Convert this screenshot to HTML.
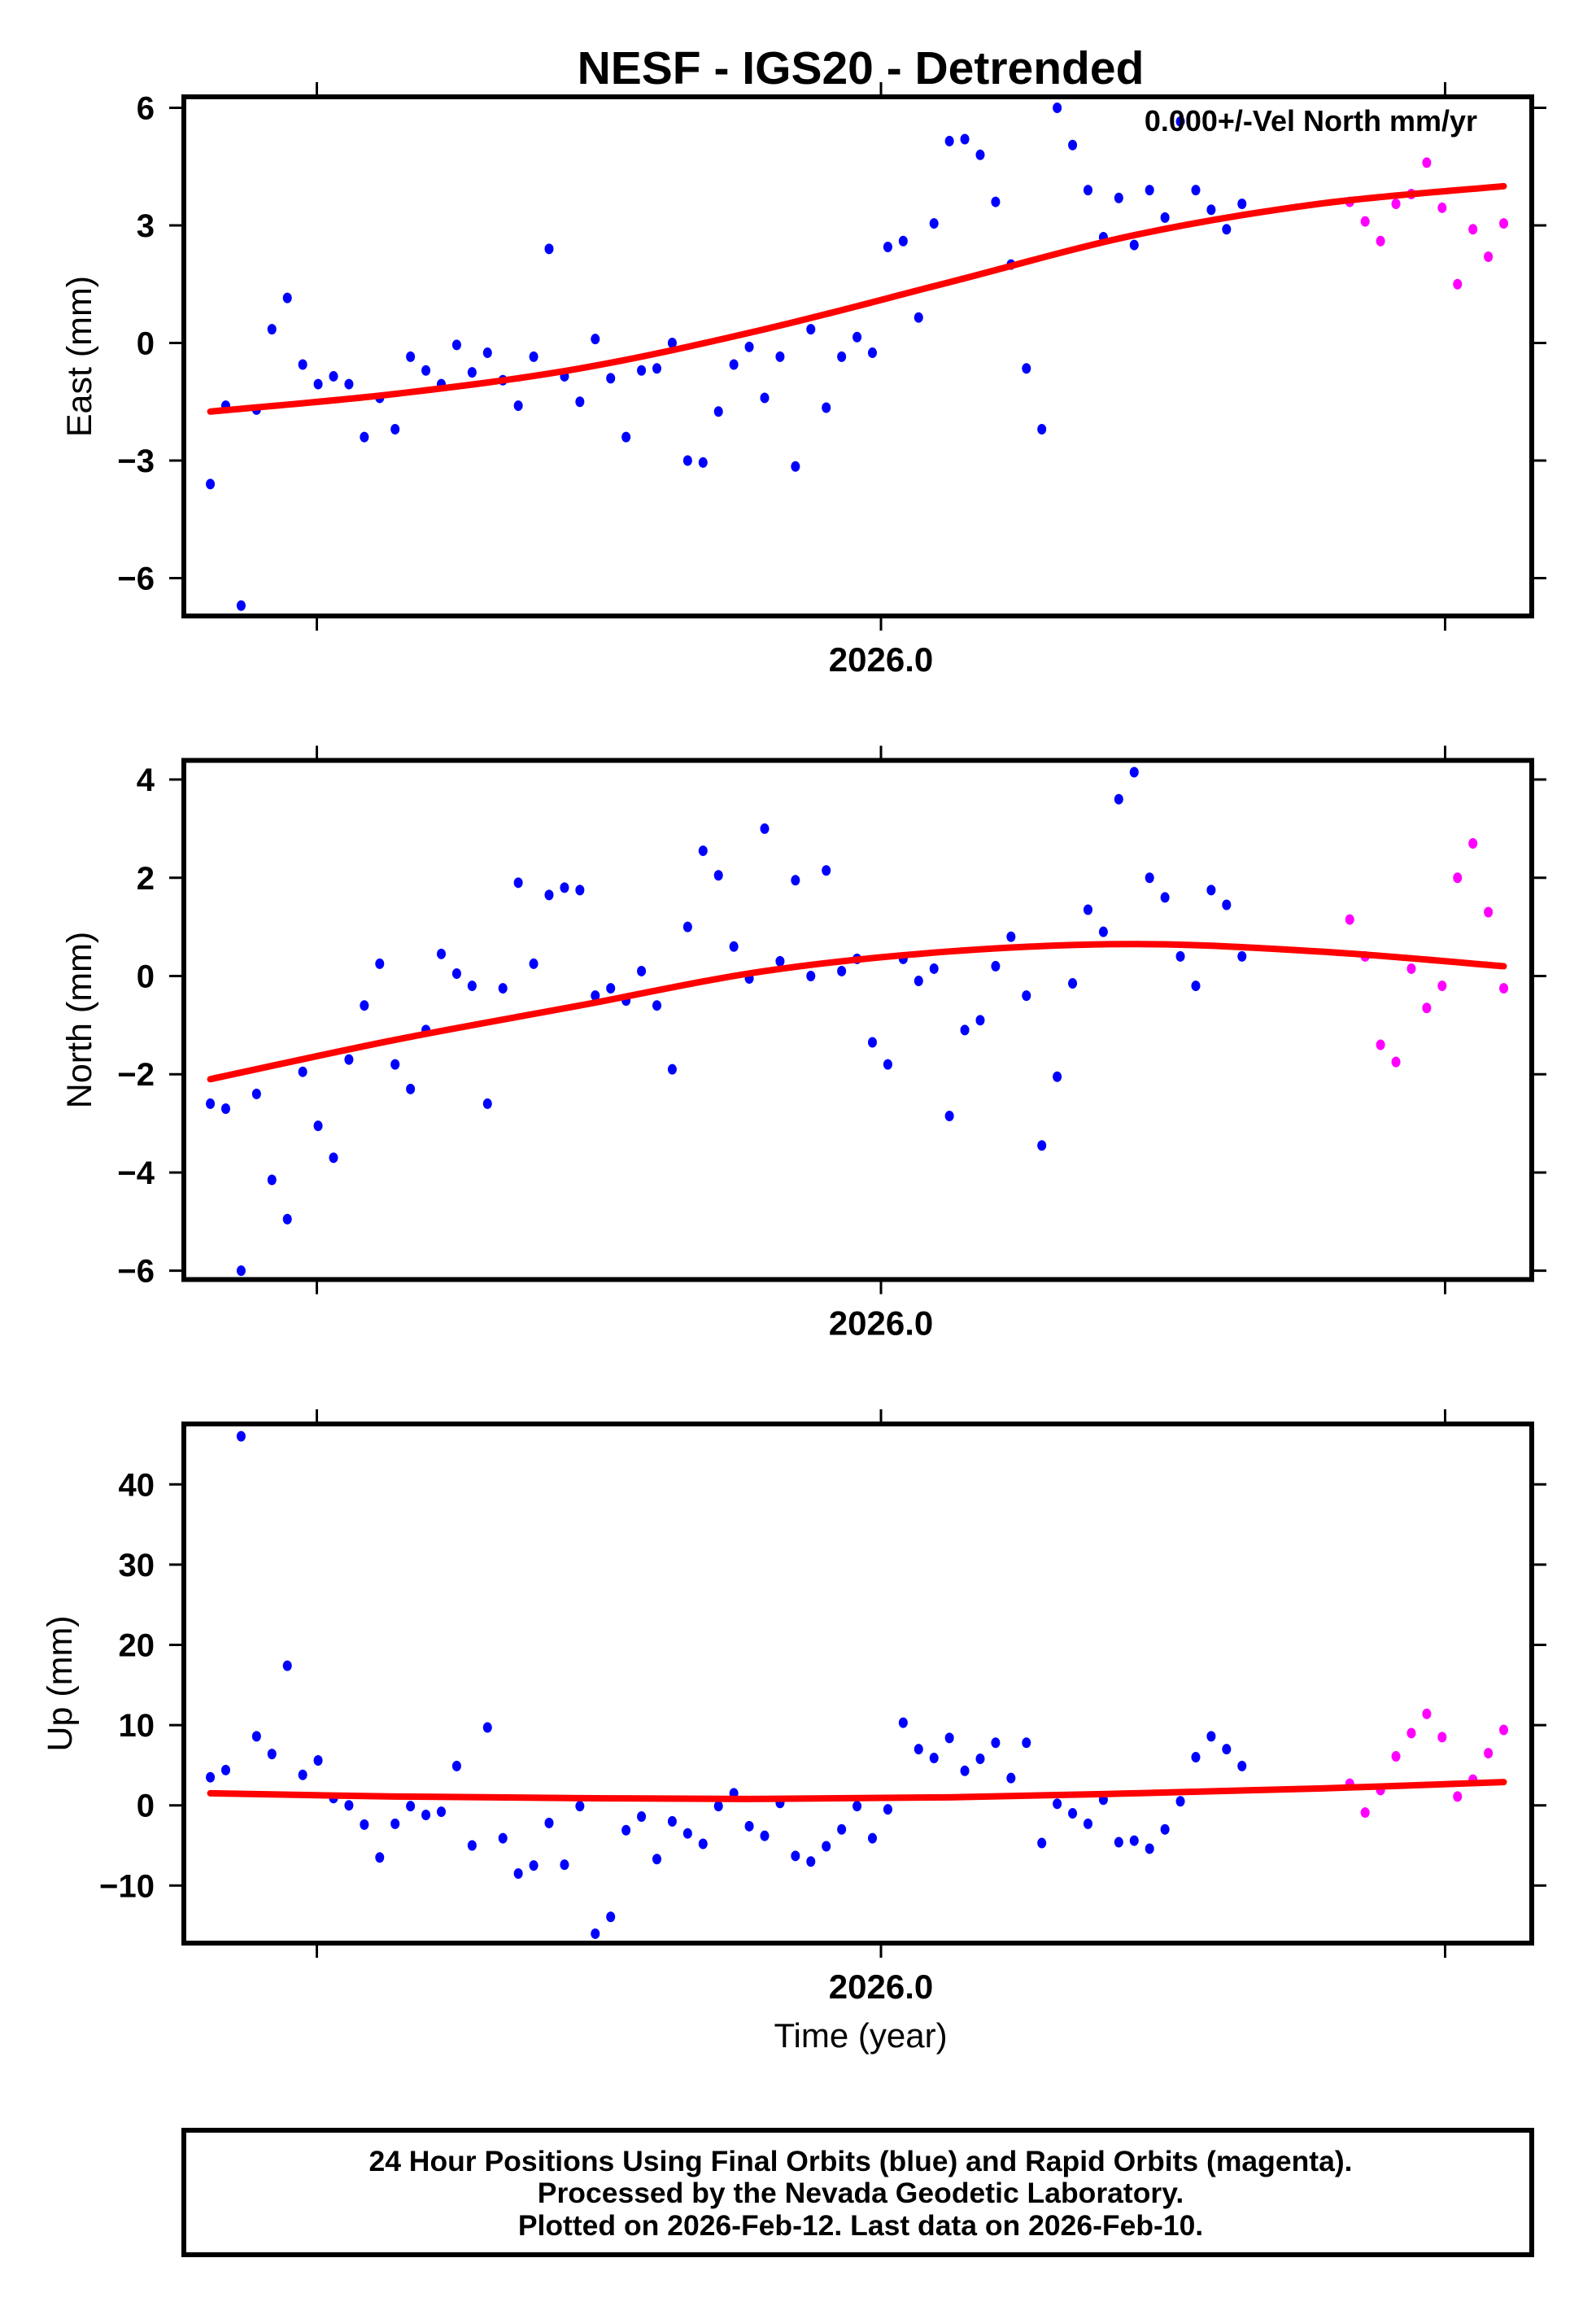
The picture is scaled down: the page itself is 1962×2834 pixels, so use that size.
<!DOCTYPE html>
<html><head><meta charset="utf-8"><style>
html,body{margin:0;padding:0;background:#fff;}
svg{display:block;font-family:"Liberation Sans",Arial,sans-serif;}
</style></head><body>
<svg id="c" width="1962" height="2834" viewBox="0 0 1962 2834">
<text x="1058" y="103" text-anchor="middle" font-size="57" font-weight="bold">NESF - IGS20 - Detrended</text>
<g id="plots"></g>
<text x="1058" y="2516" text-anchor="middle" font-size="42">Time (year)</text>
<rect x="226" y="2618" width="1657" height="153" fill="none" stroke="#000" stroke-width="6"/>
<text x="1058" y="2668" text-anchor="middle" font-size="35.5" font-weight="bold">24 Hour Positions Using Final Orbits (blue) and Rapid Orbits (magenta).</text>
<text x="1058" y="2707" text-anchor="middle" font-size="35.5" font-weight="bold">Processed by the Nevada Geodetic Laboratory.</text>
<text x="1058" y="2747" text-anchor="middle" font-size="35.5" font-weight="bold">Plotted on 2026-Feb-12. Last data on 2026-Feb-10.</text>
</svg>
<script>
const eastFinal=[-3.6,-1.6,-6.7,-1.7,0.35,1.15,-0.55,-1.05,-0.85,-1.05,-2.4,-1.4,-2.2,-0.35,-0.7,-1.05,-0.05,-0.75,-0.25,-0.95,-1.6,-0.35,2.4,-0.85,-1.5,0.1,-0.9,-2.4,-0.7,-0.65,0,-3.0,-3.05,-1.75,-0.55,-0.1,-1.4,-0.35,-3.15,0.35,-1.65,-0.35,0.15,-0.25,2.45,2.6,0.65,3.05,5.15,5.2,4.8,3.6,2.0,-0.65,-2.2,6.0,5.05,3.9,2.7,3.7,2.5,3.9,3.2,5.65,3.9,3.4,2.9,3.55];
const eastRapid=[3.6,3.1,2.6,3.55,3.8,4.6,3.45,1.5,2.9,2.2,3.05];
const northFinal=[-2.6,-2.7,-6.0,-2.4,-4.15,-4.95,-1.95,-3.05,-3.7,-1.7,-0.6,0.25,-1.8,-2.3,-1.1,0.45,0.05,-0.2,-2.6,-0.25,1.9,0.25,1.65,1.8,1.75,-0.4,-0.25,-0.5,0.1,-0.6,-1.9,1.0,2.55,2.05,0.6,-0.05,3.0,0.3,1.95,0.0,2.15,0.1,0.35,-1.35,-1.8,0.35,-0.1,0.15,-2.85,-1.1,-0.9,0.2,0.8,-0.4,-3.45,-2.05,-0.15,1.35,0.9,3.6,4.15,2.0,1.6,0.4,-0.2,1.75,1.45,0.4];
const northRapid=[1.15,0.4,-1.4,-1.75,0.15,-0.65,-0.2,2.0,2.7,1.3,-0.25];
const upFinal=[3.5,4.4,46,8.6,6.4,17.4,3.8,5.6,0.9,0,-2.4,-6.5,-2.3,-0.1,-1.2,-0.8,4.9,-5.0,9.7,-4.1,-8.5,-7.5,-2.2,-7.4,-0.1,-16.0,-13.9,-3.1,-1.4,-6.7,-2.0,-3.5,-4.8,-0.1,1.5,-2.6,-3.8,0.3,-6.3,-7.0,-5.1,-3.0,-0.1,-4.1,-0.5,10.3,7.0,5.9,8.4,4.3,5.8,7.8,3.4,7.8,-4.7,0.2,-1.0,-2.3,0.7,-4.6,-4.4,-5.4,-3.0,0.5,6.0,8.6,7.0,4.9];
const upRapid=[2.7,-0.9,1.9,6.1,9.0,11.4,8.5,1.1,3.2,6.5,9.4];
const fitIdx=[0,12,24,36,48,60,72,84];
const eastFit=[-1.75,-1.3,-0.65,0.35,1.55,2.75,3.55,4.0];
const northFit=[-2.1,-1.3,-0.6,0.1,0.5,0.65,0.5,0.2];
const upFit=[1.5,1.1,0.9,0.8,1.0,1.5,2.1,2.9];
const xTicks=[2025.5,2026.0,2026.5];
const xTickLabels=["","2026.0",""];
const eastTicks=[6,3,0,-3,-6];
const northTicks=[4,2,0,-2,-4,-6];
const upTicks=[40,30,20,10,0,-10];
const rapidStart=74;
const t0=2025.4056, dt=0.013647;

const NS='http://www.w3.org/2000/svg';
const root=document.getElementById('plots');
function mk(tag,attrs,parent){const e=document.createElementNS(NS,tag);for(const k in attrs)e.setAttribute(k,attrs[k]);(parent||root).appendChild(e);return e;}
const L=226,R=1883;
const xs=t=>1083+(t-2026)*1387;
const tAt=i=>t0+i*dt;
function panel(cfg){
  const g=mk('g',{});
  
  
  const T=cfg.top,B=cfg.top+638;
  const ys=v=>cfg.y0-v*cfg.k;
  const cl='clip'+cfg.name;
  const cp=mk('clipPath',{id:cl},g);mk('rect',{x:L,y:T,width:R-L,height:B-T},cp);
  cfg.ticks.forEach(v=>{
    const y=ys(v);
    const a=mk('line',{x1:L-18,x2:L,y1:y,y2:y,stroke:'#000','stroke-width':3},g);
    
    
    const b=mk('line',{x1:R,x2:R+18,y1:y,y2:y,stroke:'#000','stroke-width':3},g);
    
    
    const tx=mk('text',{x:190,y:y+14,'text-anchor':'end','font-size':40,'font-weight':'bold'},g);
    tx.textContent=(v<0?'\u2212'+(-v):''+v);
    
    
  });
  xTicks.forEach((t,j)=>{
    const x=xs(t);
    const a=mk('line',{x1:x,x2:x,y1:T-18,y2:T,stroke:'#000','stroke-width':3},g);
    
    
    const b=mk('line',{x1:x,x2:x,y1:B,y2:B+18,stroke:'#000','stroke-width':3},g);
    
    
    if(xTickLabels[j]){
      const tx=mk('text',{x:x,y:B+68,'text-anchor':'middle','font-size':42,'font-weight':'bold'},g);
      tx.textContent=xTickLabels[j];
      
      
    }
  });
  const yl=mk('text',{x:0,y:0,'text-anchor':'middle','font-size':43,transform:`translate(${cfg.lx},${(T+B)/2}) rotate(-90)`},g);
  yl.textContent=cfg.label;
  
  
  const pts=mk('g',{'clip-path':`url(#${cl})`},g);
  cfg.fin.forEach((v,i)=>{
    const c=mk('ellipse',{cx:xs(tAt(i)),cy:ys(v),rx:5.5,ry:6.5,fill:'#0000ff'},pts);
    
    
  });
  cfg.rap.forEach((v,i)=>{
    const c=mk('ellipse',{cx:xs(tAt(rapidStart+i)),cy:ys(v),rx:5.5,ry:6.5,fill:'#ff00ff'},pts);
    
    
  });
  const P=fitIdx.map((ix,j)=>[xs(tAt(ix)),ys(cfg.fit[j])]);
  let d='M'+P[0][0]+','+P[0][1];
  for(let j=0;j<P.length-1;j++){
    const p0=P[Math.max(0,j-1)],p1=P[j],p2=P[j+1],p3=P[Math.min(P.length-1,j+2)];
    const c1=[p1[0]+(p2[0]-p0[0])/6,p1[1]+(p2[1]-p0[1])/6];
    const c2=[p2[0]-(p3[0]-p1[0])/6,p2[1]-(p3[1]-p1[1])/6];
    d+=` C${c1[0]},${c1[1]} ${c2[0]},${c2[1]} ${p2[0]},${p2[1]}`;
  }
  const fl=mk('path',{d:d,fill:'none',stroke:'#ff0000','stroke-width':8,'stroke-linecap':'round'},pts);
  
  
  const fr=mk('rect',{x:L,y:T,width:R-L,height:B-T,fill:'none',stroke:'#000','stroke-width':6},g);
  
  
  return g;
}
const gE=panel({name:'east',top:119,y0:421.5,k:48.17,ticks:eastTicks,label:'East (mm)',lx:112,fin:eastFinal,rap:eastRapid,fit:eastFit});
const vt=mk('text',{x:1816,y:161,'text-anchor':'end','font-size':36,'font-weight':'bold'},gE);
vt.textContent='0.000+/-Vel North mm/yr';


panel({name:'north',top:934.5,y0:1199.5,k:60.36,ticks:northTicks,label:'North (mm)',lx:112,fin:northFinal,rap:northRapid,fit:northFit});
panel({name:'up',top:1750,y0:2218.7,k:9.86,ticks:upTicks,label:'Up (mm)',lx:88,fin:upFinal,rap:upRapid,fit:upFit});
</script>
</body></html>
